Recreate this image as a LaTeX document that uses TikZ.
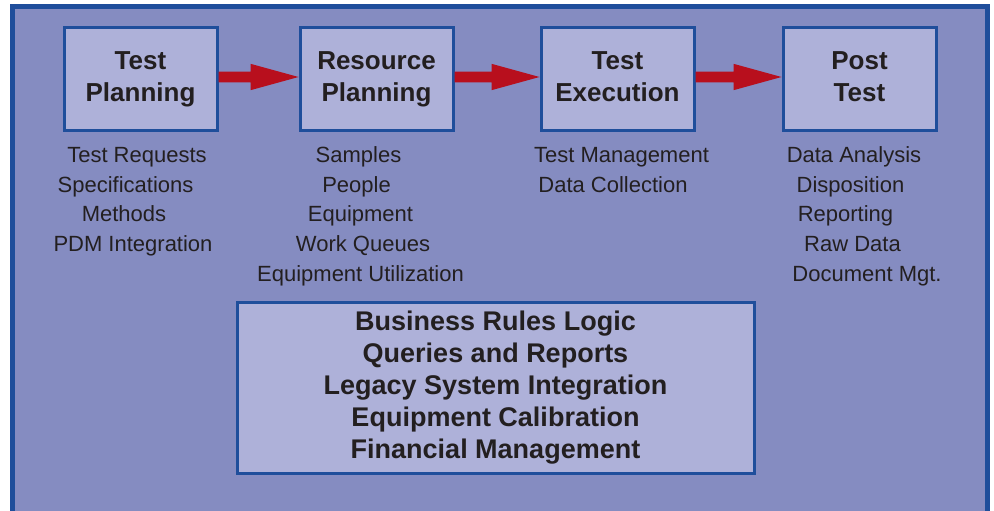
\documentclass[tikz,border=0pt]{standalone}
\usepackage{fontspec}
\setmainfont{Liberation Sans}
\usetikzlibrary{calc}
\definecolor{framefill}{HTML}{858CC1}
\definecolor{boxfill}{HTML}{AEB1D9}
\definecolor{borderblue}{HTML}{1F4E9B}
\definecolor{arrowred}{HTML}{B80F1D}
\definecolor{textdark}{HTML}{231F20}
\newcommand\myredarrow[2]{%
  \fill[arrowred]
    ($(#1.east)+(0,-7.3)$) -- ($(#2.west)+(-48,-7.3)$) -- ($(#2.west)+(-48,-15.2)$)
    -- ($(#2.west)+(0,-2)$)
    -- ($(#2.west)+(-48,11.2)$) -- ($(#2.west)+(-48,3.3)$) -- ($(#1.east)+(0,3.3)$) -- cycle;}
\tikzset{
  stagebox/.style={draw=borderblue, fill=boxfill, line width=3pt, minimum width=153pt,
    minimum height=102pt, inner sep=0pt, align=center, text=textdark,
    font=\fontsize{26}{32}\selectfont\bfseries},
  infobox/.style={draw=borderblue, fill=boxfill, line width=3pt, minimum width=517pt,
    minimum height=171pt, inner sep=0pt, align=center, text=textdark,
    font=\fontsize{27}{31.9}\selectfont\bfseries},
  item/.style={anchor=base, inner sep=0pt, text=textdark, font=\fontsize{22}{26}\selectfont}
}
\begin{document}
\begin{tikzpicture}[x=1pt,y=-1pt]
\useasboundingbox (0,0) rectangle (994,511);
\fill[white] (0,0) rectangle (994,511);
\draw[fill=framefill, draw=borderblue, line width=5pt] (12.5,6.5) rectangle (987.5,540);

\node[stagebox] (tp) at (140.5,79) {Test\\Planning};
\node[stagebox] (rp) at (376.5,79) {Resource\\Planning};
\node[stagebox] (te) at (617.5,79) {Test\\Execution\vphantom{g}};
\node[stagebox] (pt) at (859.5,79) {Post\\Test\vphantom{g}};

\myredarrow{tp}{rp}
\myredarrow{rp}{te}
\myredarrow{te}{pt}

\node[item] (tp1) at (137,162) {Test Requests};
\node[item] (tp2) at (125.5,192) {Specifications};
\node[item] (tp3) at (124,221) {Methods};
\node[item] (tp4) at (133,251) {PDM Integration};

\node[item] (rp1) at (358.5,162) {Samples};
\node[item] (rp2) at (356.5,192) {People};
\node[item] (rp3) at (360.5,221) {Equipment};
\node[item] (rp4) at (363,251) {Work Queues};
\node[item] (rp5) at (360.5,281) {Equipment Utilization};

\node[item] (te1) at (621.5,162) {Test Management};
\node[item] (te2) at (613,192) {Data Collection};

\node[item] (pt1) at (854,162) {Data Analysis};
\node[item] (pt2) at (850.5,192) {Disposition};
\node[item] (pt3) at (845.5,221) {Reporting};
\node[item] (pt4) at (852.5,251) {Raw Data};
\node[item] (pt5) at (867,281) {Document Mgt.};

\node[infobox] (core) at (495.5,387.5) {Business Rules Logic\\Queries and Reports\\Legacy System Integration\\Equipment Calibration\\Financial Management};
\end{tikzpicture}
\end{document}
